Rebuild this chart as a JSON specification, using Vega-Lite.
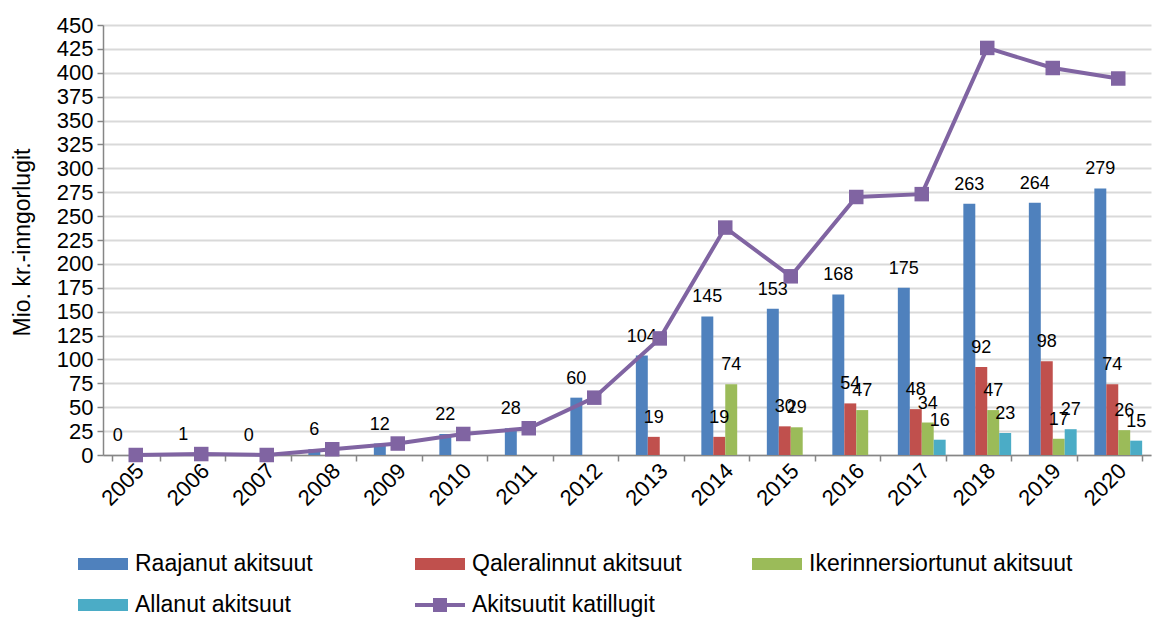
{
  "$schema": "https://vega.github.io/schema/vega-lite/v6.json",
  "autosize": {"type": "none"},
  "width": 1048,
  "height": 430,
  "padding": {"left": 103, "top": 25, "right": 2, "bottom": 163},
  "background": "white",
  "config": {
    "font": "Liberation Sans",
    "view": {"stroke": null}
  },
  "datasets": {
    "bars": [
      {"year": "2005", "series": "Raajanut akitsuut", "value": 0},
      {"year": "2006", "series": "Raajanut akitsuut", "value": 1},
      {"year": "2007", "series": "Raajanut akitsuut", "value": 0},
      {"year": "2008", "series": "Raajanut akitsuut", "value": 6},
      {"year": "2009", "series": "Raajanut akitsuut", "value": 12},
      {"year": "2010", "series": "Raajanut akitsuut", "value": 22},
      {"year": "2011", "series": "Raajanut akitsuut", "value": 28},
      {"year": "2012", "series": "Raajanut akitsuut", "value": 60},
      {"year": "2013", "series": "Raajanut akitsuut", "value": 104},
      {"year": "2013", "series": "Qaleralinnut akitsuut", "value": 19},
      {"year": "2014", "series": "Raajanut akitsuut", "value": 145},
      {"year": "2014", "series": "Qaleralinnut akitsuut", "value": 19},
      {"year": "2014", "series": "Ikerinnersiortunut akitsuut", "value": 74},
      {"year": "2015", "series": "Raajanut akitsuut", "value": 153},
      {"year": "2015", "series": "Qaleralinnut akitsuut", "value": 30},
      {"year": "2015", "series": "Ikerinnersiortunut akitsuut", "value": 29},
      {"year": "2016", "series": "Raajanut akitsuut", "value": 168},
      {"year": "2016", "series": "Qaleralinnut akitsuut", "value": 54},
      {"year": "2016", "series": "Ikerinnersiortunut akitsuut", "value": 47},
      {"year": "2017", "series": "Raajanut akitsuut", "value": 175},
      {"year": "2017", "series": "Qaleralinnut akitsuut", "value": 48},
      {"year": "2017", "series": "Ikerinnersiortunut akitsuut", "value": 34},
      {"year": "2017", "series": "Allanut akitsuut", "value": 16},
      {"year": "2018", "series": "Raajanut akitsuut", "value": 263},
      {"year": "2018", "series": "Qaleralinnut akitsuut", "value": 92},
      {"year": "2018", "series": "Ikerinnersiortunut akitsuut", "value": 47},
      {"year": "2018", "series": "Allanut akitsuut", "value": 23},
      {"year": "2019", "series": "Raajanut akitsuut", "value": 264},
      {"year": "2019", "series": "Qaleralinnut akitsuut", "value": 98},
      {"year": "2019", "series": "Ikerinnersiortunut akitsuut", "value": 17},
      {"year": "2019", "series": "Allanut akitsuut", "value": 27},
      {"year": "2020", "series": "Raajanut akitsuut", "value": 279},
      {"year": "2020", "series": "Qaleralinnut akitsuut", "value": 74},
      {"year": "2020", "series": "Ikerinnersiortunut akitsuut", "value": 26},
      {"year": "2020", "series": "Allanut akitsuut", "value": 15}
    ],
    "total": [
      {"year": "2005", "total": 0},
      {"year": "2006", "total": 1},
      {"year": "2007", "total": 0},
      {"year": "2008", "total": 6},
      {"year": "2009", "total": 12},
      {"year": "2010", "total": 22},
      {"year": "2011", "total": 28},
      {"year": "2012", "total": 60},
      {"year": "2013", "total": 122},
      {"year": "2014", "total": 238},
      {"year": "2015", "total": 187},
      {"year": "2016", "total": 270},
      {"year": "2017", "total": 273},
      {"year": "2018", "total": 426},
      {"year": "2019", "total": 405},
      {"year": "2020", "total": 394}
    ]
  },
  "encoding": {
    "x": {
      "field": "year", "type": "nominal",
      "scale": {"paddingInner": 0.27, "paddingOuter": 0.135},
      "axis": {
        "title": null,
        "labelAngle": -45, "labelAlign": "right", "labelBaseline": "middle",
        "labelFontSize": 22, "labelColor": "#000000", "labelPadding": 6, "labelOffset": 4,
        "tickBand": "extent", "tickSize": 6, "tickColor": "#868686", "tickWidth": 1.5,
        "domainColor": "#868686", "domainWidth": 1.5, "grid": false
      }
    },
    "y": {
      "type": "quantitative",
      "scale": {"domain": [0, 450], "nice": false},
      "axis": {
        "title": "Mio. kr.-inngorlugit",
        "titleFontSize": 23, "titleFontWeight": "normal", "titleColor": "#000000",
        "titleX": -81, "titleY": 217, "titleAngle": -90, "titleAlign": "center", "titleBaseline": "middle",
        "values": [0, 25, 50, 75, 100, 125, 150, 175, 200, 225, 250, 275, 300, 325, 350, 375, 400, 425, 450],
        "labelFontSize": 22, "labelColor": "#000000", "labelPadding": 4,
        "tickSize": 6, "tickColor": "#868686", "tickWidth": 1.5,
        "domainColor": "#868686", "domainWidth": 1.5,
        "gridColor": "#D9D9D9", "gridWidth": 2
      }
    }
  },
  "layer": [
    {
      "data": {"name": "bars"},
      "mark": {"type": "bar"},
      "encoding": {
        "y": {"field": "value"},
        "xOffset": {"field": "series", "type": "nominal",
          "scale": {"domain": ["Raajanut akitsuut", "Qaleralinnut akitsuut", "Ikerinnersiortunut akitsuut", "Allanut akitsuut"], "paddingInner": 0, "paddingOuter": 0}},
        "color": {
          "field": "series", "type": "nominal",
          "scale": {
            "domain": ["Raajanut akitsuut", "Qaleralinnut akitsuut", "Ikerinnersiortunut akitsuut", "Allanut akitsuut", "Akitsuutit katillugit"],
            "range": ["#4F81BD", "#C0504D", "#9BBB59", "#4BACC6", "#8064A2"]
          },
          "legend": {
            "title": null,
            "orient": "none",
            "legendX": -25,
            "legendY": 514,
            "direction": "horizontal",
            "columns": 3,
            "gridAlign": "all",
            "columnPadding": 16,
            "rowPadding": 4,
            "symbolSize": 2500,
            "symbolStrokeWidth": 0,
            "labelFontSize": 23,
            "labelColor": "#000000",
            "labelOffset": 7,
            "labelLimit": 400,
            "encode": {
              "symbols": {
                "update": {
                  "shape": {"signal": "datum.value === 'Akitsuutit katillugit' ? 'M-1,-0.08H1V0.08H-1Z M-0.28,-0.28H0.28V0.28H-0.28Z' : 'M-1,-0.24H1V0.24H-1Z'"},
                  "fill": {"scale": "color", "field": "value"},
                  "opacity": {"value": 1},
                  "strokeWidth": {"value": 0}
                }
              }
            }
          }
        }
      }
    },
    {
      "data": {"name": "bars"},
      "mark": {"type": "text", "fontSize": 18, "baseline": "middle", "align": "center", "dy": -19, "color": "#000000"},
      "encoding": {
        "y": {"field": "value"},
        "xOffset": {"field": "series", "type": "nominal"},
        "text": {"field": "value", "type": "quantitative"}
      }
    },
    {
      "data": {"name": "total"},
      "mark": {"type": "line", "strokeWidth": 4, "color": "#8064A2",
        "point": {"shape": "square", "size": 210, "filled": true, "color": "#8064A2", "opacity": 1}},
      "encoding": {
        "y": {"field": "total"},
        "color": {"datum": "Akitsuutit katillugit"}
      }
    }
  ]
}
